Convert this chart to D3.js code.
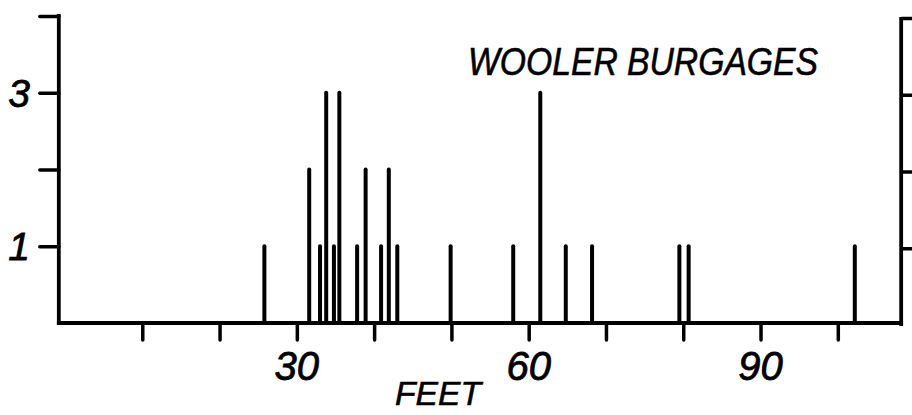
<!DOCTYPE html>
<html><head><meta charset="utf-8">
<script src="https://cdn.jsdelivr.net/npm/d3@7/dist/d3.min.js"></script>
<style>body{margin:0;background:#fff}svg{display:block}</style></head>
<body><svg id="c" width="912" height="415"></svg>
<script>
// ---- data ----
const lengths = [25.8, 31.6, 33.0, 33.8, 34.8, 35.5, 37.8, 38.9, 40.9, 41.9, 43.0, 49.9, 58.0, 61.5, 64.8, 68.2, 79.5, 80.7, 102.2];
const counts  = [1, 2, 1, 3, 1, 3, 1, 2, 1, 2, 1, 1, 1, 3, 1, 1, 1, 1, 1];
const xTicks  = [10, 20, 30, 40, 50, 60, 70, 80, 90, 100];
const xLabels = [30, 60, 90];
const yTicks  = [1, 2, 3, 4];
const yLabels = [1, 3];
const xExtent = [-0.8, 108.2];
const yMax = 4;
const titleText = "WOOLER BURGAGES";
const xTitleText = "FEET";

// ---- drawing ----
const svg = d3.select("#c");
const x = d3.scaleLinear().domain([0, 100]).range([65, 837.8]);
const y = d3.scaleLinear().domain([0, yMax]).range([323, 16]);
const ink = "#000";
const font = "'Liberation Sans', Arial, sans-serif";

// frame: left axis, bottom axis, right axis
const frame = svg.append("g").attr("stroke", ink).attr("stroke-width", 3.8).attr("stroke-linecap", "square");
frame.append("line").attr("x1", x(xExtent[0])).attr("x2", x(xExtent[0])).attr("y1", y(yMax)).attr("y2", y(0));
frame.append("line").attr("x1", x(xExtent[0])).attr("x2", x(xExtent[1])).attr("y1", y(0)).attr("y2", y(0));
frame.append("line").attr("x1", x(xExtent[1])).attr("x2", x(xExtent[1])).attr("y1", y(yMax) + 3).attr("y2", y(0) + 1);

// bottom ticks
const gx = svg.append("g").attr("transform", `translate(0,${y(0)})`)
  .call(d3.axisBottom(x).tickValues(xTicks).tickSize(17).tickFormat(""));
gx.select(".domain").remove();
gx.selectAll("line").attr("stroke", ink).attr("stroke-width", 3.5).attr("stroke-linecap", "round");

// left ticks
const gl = svg.append("g").attr("transform", `translate(${x(xExtent[0])},0)`)
  .call(d3.axisLeft(y).tickValues(yTicks).tickSize(19).tickFormat(""));
gl.select(".domain").remove();
gl.selectAll("line").attr("stroke", ink).attr("stroke-width", 3.5).attr("stroke-linecap", "round");

// right ticks
const gr = svg.append("g").attr("transform", `translate(${x(xExtent[1])},2)`)
  .call(d3.axisRight(y).tickValues(yTicks).tickSize(14).tickFormat(""));
gr.select(".domain").remove();
gr.selectAll("line").attr("stroke", ink).attr("stroke-width", 3.5);

// spikes
svg.append("g").selectAll("line").data(d3.zip(lengths, counts)).join("line")
  .attr("x1", d => x(d[0])).attr("x2", d => x(d[0]))
  .attr("y1", y(0)).attr("y2", d => y(d[1]))
  .attr("stroke", ink).attr("stroke-width", 4).attr("stroke-linecap", "round");

// x tick labels
svg.append("g").selectAll("text").data(xLabels).join("text")
  .attr("x", d => x(d)).attr("y", 380)
  .attr("text-anchor", "middle")
  .attr("font-family", font).attr("font-style", "italic").attr("font-size", 40)
  .attr("stroke", ink).attr("stroke-width", 0.8)
  .attr("fill", ink).text(d => d);

// y tick labels
svg.append("g").selectAll("text").data(yLabels).join("text")
  .attr("x", 19).attr("y", d => y(d) + 14)
  .attr("text-anchor", "middle")
  .attr("font-family", font).attr("font-style", "italic").attr("font-size", 39)
  .attr("stroke", ink).attr("stroke-width", 0.8)
  .attr("fill", ink).text(d => d);

// title
svg.append("text").attr("x", 468).attr("y", 75)
  .attr("font-family", font).attr("font-style", "italic").attr("font-size", 38)
  .attr("textLength", 350).attr("lengthAdjust", "spacingAndGlyphs")
  .attr("stroke", ink).attr("stroke-width", 0.6)
  .attr("fill", ink).text(titleText);

// axis title
svg.append("text").attr("x", 395).attr("y", 405)
  .attr("font-family", font).attr("font-style", "italic").attr("font-size", 33)
  .attr("textLength", 86).attr("lengthAdjust", "spacingAndGlyphs")
  .attr("stroke", ink).attr("stroke-width", 0.6)
  .attr("fill", ink).text(xTitleText);
</script></body></html>
